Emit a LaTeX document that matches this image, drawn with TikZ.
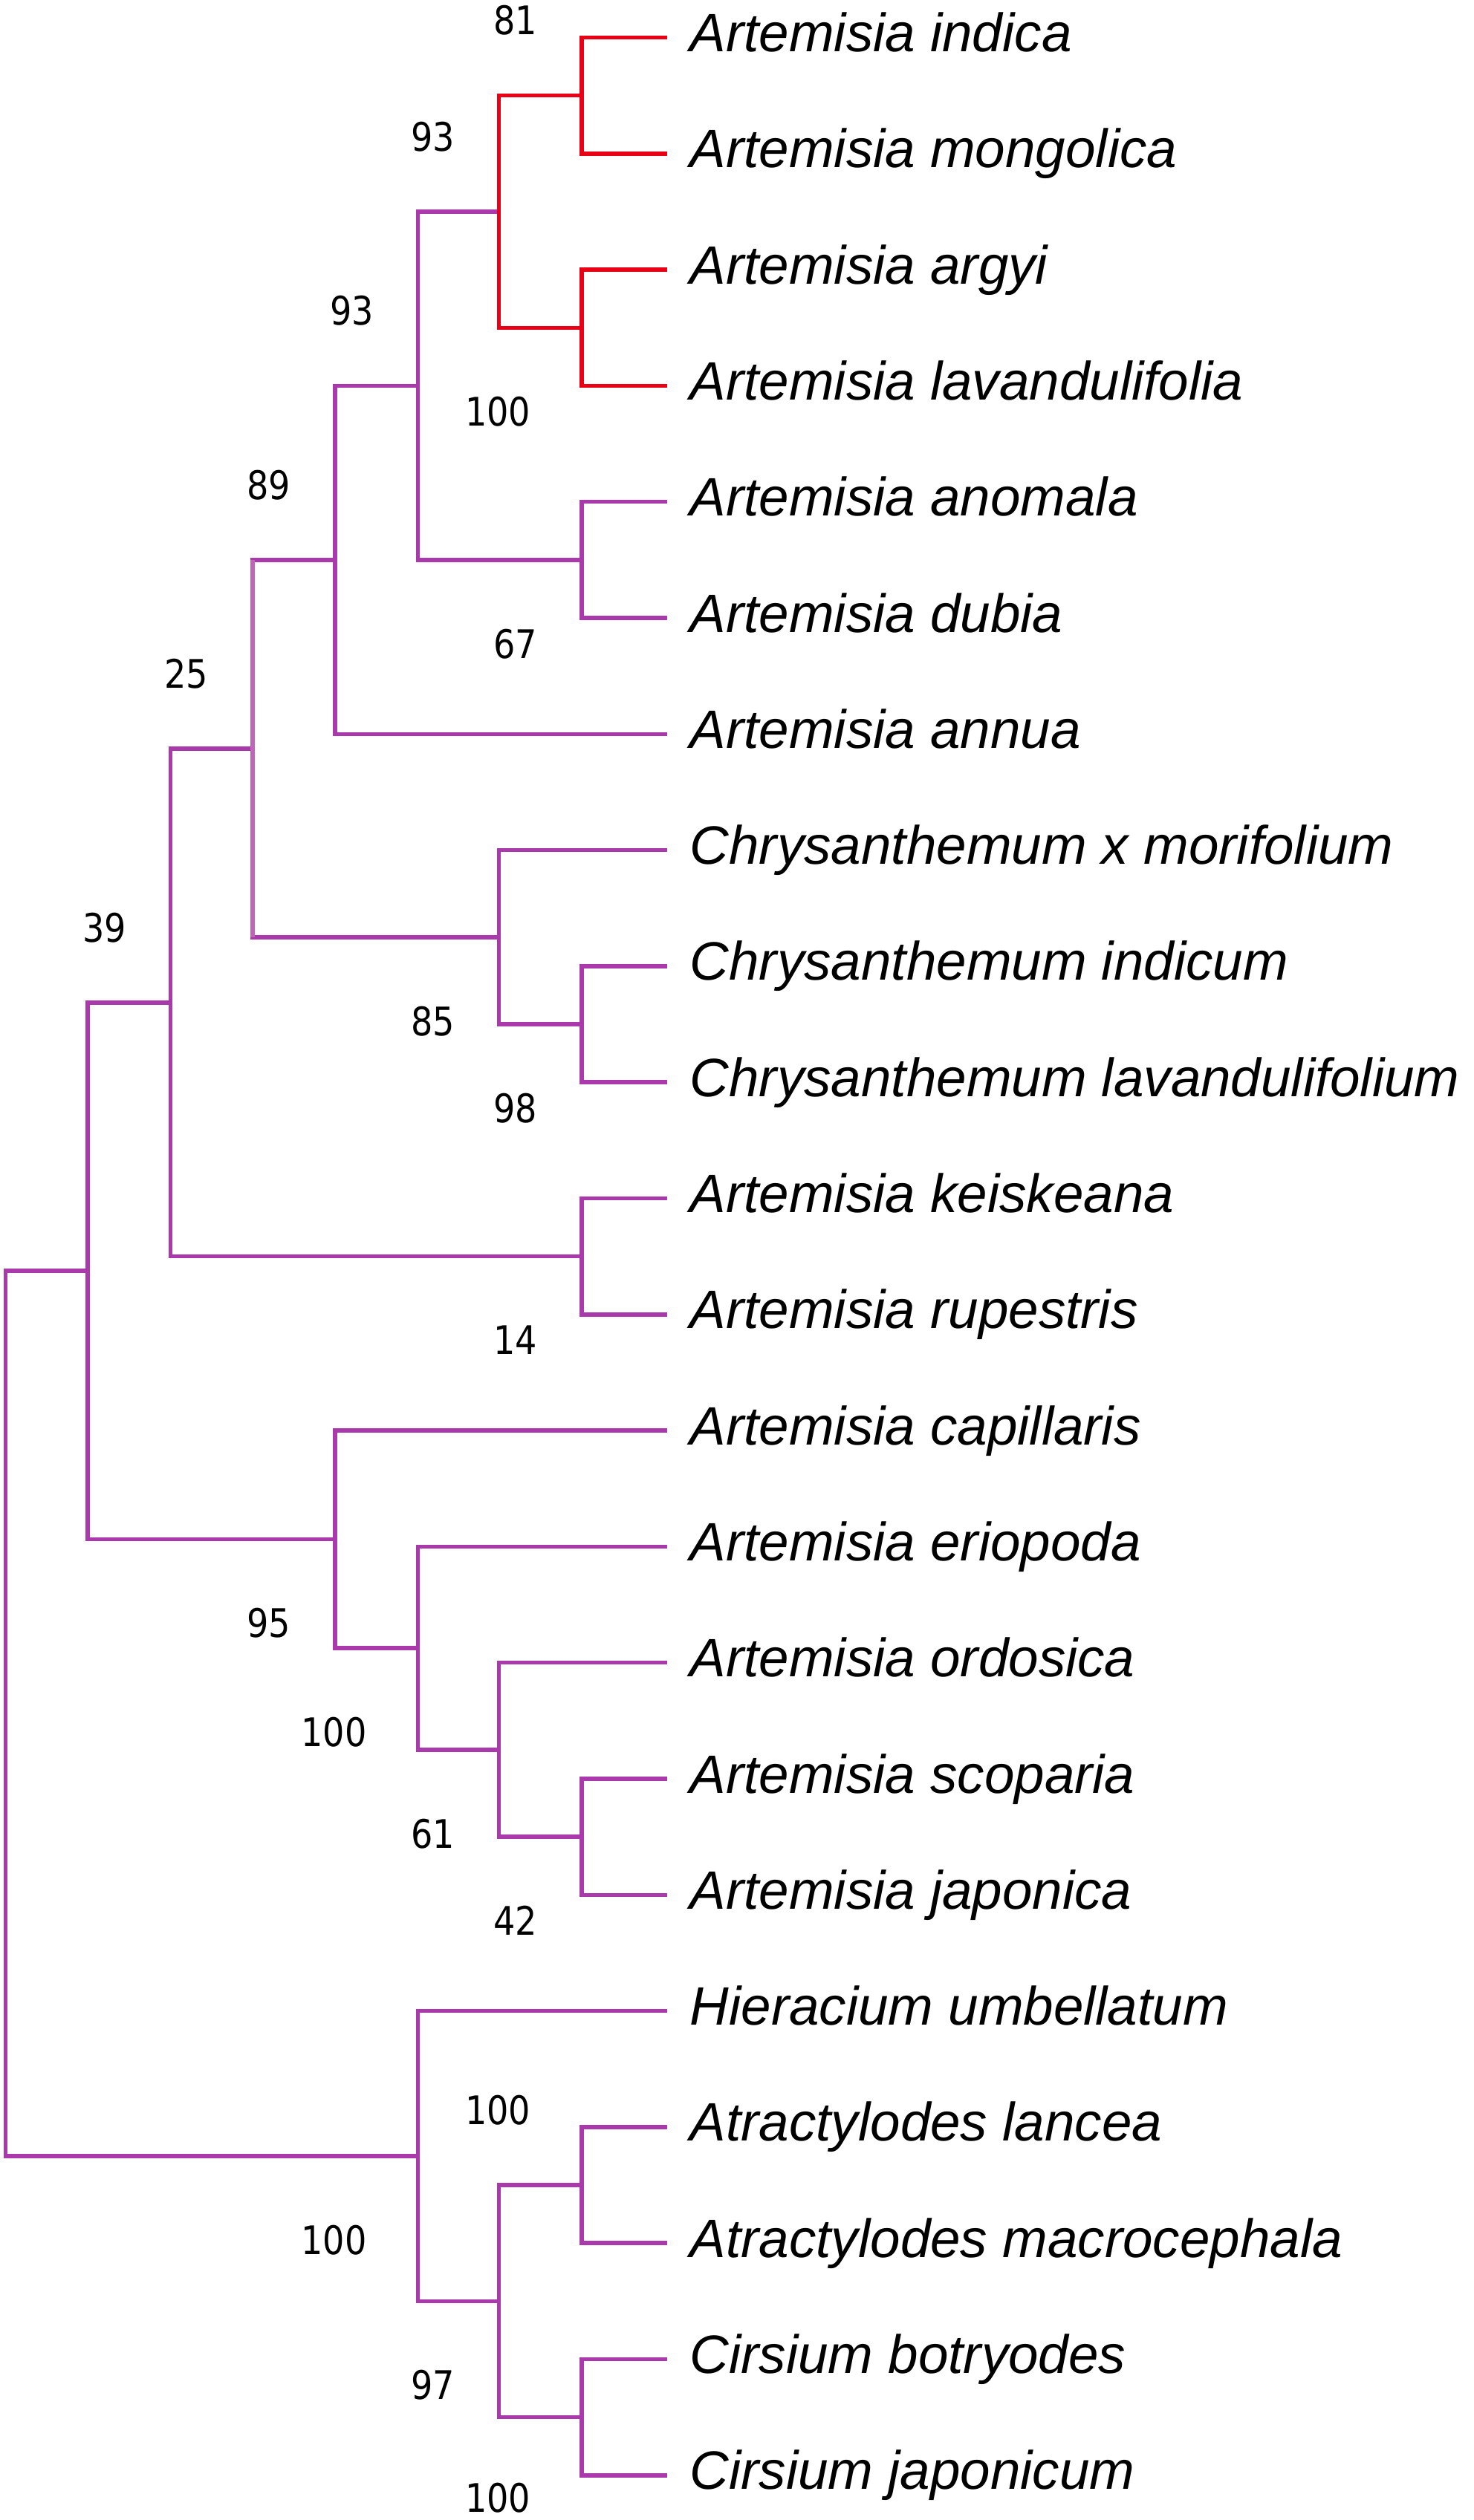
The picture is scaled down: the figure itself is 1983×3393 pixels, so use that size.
\documentclass[tikz,border=0pt]{standalone}
\usepackage{fontspec}
\setmainfont{Liberation Sans}
\newfontfamily\numfont[FakeStretch=0.87]{DejaVu Sans}
\usetikzlibrary{calc}
\definecolor{treepurple}{RGB}{170,58,172}
\definecolor{treered}{RGB}{232,0,22}
\definecolor{treelight}{RGB}{192,100,184}
\begin{document}
\begin{tikzpicture}[x=0.25pt,y=-0.25pt,
  branch/.style={line width=1.375pt, draw=treepurple},
  redbranch/.style={line width=1.375pt, draw=treered},
  lightbranch/.style={line width=1.375pt, draw=treelight},
  taxon/.style={anchor=base west, inner sep=0pt, font=\fontsize{18.2}{20}\selectfont\itshape},
  boot/.style={anchor=center, inner sep=0pt, font=\numfont\fontsize{13.25}{15}\selectfont}]
\useasboundingbox (0,0) rectangle (1983,3393);

% leaves (tips) and taxon names
\foreach \i/\name in {1/Artemisia indica, 2/Artemisia mongolica, 3/Artemisia argyi,
  4/Artemisia lavandulifolia, 5/Artemisia anomala, 6/Artemisia dubia, 7/Artemisia annua,
  8/Chrysanthemum x morifolium, 9/Chrysanthemum indicum, 10/Chrysanthemum lavandulifolium,
  11/Artemisia keiskeana, 12/Artemisia rupestris, 13/Artemisia capillaris,
  14/Artemisia eriopoda, 15/Artemisia ordosica, 16/Artemisia scoparia, 17/Artemisia japonica,
  18/Hieracium umbellatum, 19/Atractylodes lancea, 20/Atractylodes macrocephala,
  21/Cirsium botryodes, 22/Cirsium japonicum}{
  \coordinate (l\i) at (898,{50.5+156.3*(\i-1)});
  \node[taxon] (t\i) at ($(l\i)+(30,19)$) {\name};
}

% internal nodes
\coordinate (n81)   at (783,128.65);
\coordinate (n100a) at (783,441.25);
\coordinate (nred)  at (671.5,284.95);
\coordinate (n67)   at (783,753.85);
\coordinate (n93b)  at (562.5,519.4);
\coordinate (n89)   at (451,753.85);
\coordinate (n98)   at (783,1379.05);
\coordinate (n85)   at (671.5,1261.83);
\coordinate (n25)   at (340,1007.84);
\coordinate (n14)   at (783,1691.65);
\coordinate (n39)   at (229.6,1349.75);
\coordinate (n42)   at (783,2473.15);
\coordinate (n61)   at (671.5,2355.93);
\coordinate (n100b) at (562.5,2219.16);
\coordinate (n95)   at (451,2072.63);
\coordinate (nA)    at (118,1711.19);
\coordinate (n100c) at (783,2942.05);
\coordinate (n100d) at (783,3254.65);
\coordinate (n97)   at (671.5,3098.35);
\coordinate (n100e) at (562.5,2902.98);
\coordinate (root)  at (7.6,2307.08);

% purple branches
\draw[branch] (n93b) |- (nred);
\draw[branch] (n93b) |- (n67);
\draw[branch] (n67) |- (l5);
\draw[branch] (n67) |- (l6);
\draw[branch] (n89) |- (n93b);
\draw[branch] (n89) |- (l7);
\draw[branch] (n25) |- (n89);
\draw[branch] (n25) |- (n85);
\draw[branch] (n85) |- (l8);
\draw[branch] (n85) |- (n98);
\draw[branch] (n98) |- (l9);
\draw[branch] (n98) |- (l10);
\draw[branch] (n39) |- (n25);
\draw[branch] (n39) |- (n14);
\draw[branch] (n14) |- (l11);
\draw[branch] (n14) |- (l12);
\draw[branch] (nA) |- (n39);
\draw[branch] (nA) |- (n95);
\draw[branch] (n95) |- (l13);
\draw[branch] (n95) |- (n100b);
\draw[branch] (n100b) |- (l14);
\draw[branch] (n100b) |- (n61);
\draw[branch] (n61) |- (l15);
\draw[branch] (n61) |- (n42);
\draw[branch] (n42) |- (l16);
\draw[branch] (n42) |- (l17);
\draw[branch] (root) |- (nA);
\draw[branch] (root) |- (n100e);
\draw[branch] (n100e) |- (l18);
\draw[branch] (n100e) |- (n97);
\draw[branch] (n97) |- (n100c);
\draw[branch] (n97) |- (n100d);
\draw[branch] (n100c) |- (l19);
\draw[branch] (n100c) |- (l20);
\draw[branch] (n100d) |- (l21);
\draw[branch] (n100d) |- (l22);
\draw[lightbranch] (n25 |- n89) -- (n25 |- n85);

% red clade
\draw[redbranch] (nred) |- (n81);
\draw[redbranch] (nred) |- (n100a);
\draw[redbranch] (n81) |- (l1);
\draw[redbranch] (n81) |- (l2);
\draw[redbranch] (n100a) |- (l3);
\draw[redbranch] (n100a) |- (l4);

% bootstrap values
\node[boot] (b81)   at ($(n81)+(-89,-101)$) {81};
\node[boot] (b93a)  at ($(nred)+(-89,-101)$) {93};
\node[boot] (b93b)  at ($(n93b)+(-89,-101)$) {93};
\node[boot] (b100a) at ($(n100a)+(-113,113)$) {100};
\node[boot] (b89)   at ($(n89)+(-89,-101)$) {89};
\node[boot] (b67)   at ($(n67)+(-89,113)$) {67};
\node[boot] (b25)   at ($(n25)+(-89,-101)$) {25};
\node[boot] (b39)   at ($(n39)+(-89,-101)$) {39};
\node[boot] (b85)   at ($(n85)+(-89,113)$) {85};
\node[boot] (b98)   at ($(n98)+(-89,113)$) {98};
\node[boot] (b14)   at ($(n14)+(-89,113)$) {14};
\node[boot] (b95)   at ($(n95)+(-89,113)$) {95};
\node[boot] (b100b) at ($(n100b)+(-113,113)$) {100};
\node[boot] (b61)   at ($(n61)+(-89,113)$) {61};
\node[boot] (b42)   at ($(n42)+(-89,113)$) {42};
\node[boot] (b100c) at ($(n100c)+(-113,-101)$) {100};
\node[boot] (b100e) at ($(n100e)+(-113,113)$) {100};
\node[boot] (b97)   at ($(n97)+(-89,113)$) {97};
\node[boot] (b100d) at ($(n100d)+(-113,109)$) {100};
\end{tikzpicture}
\end{document}
